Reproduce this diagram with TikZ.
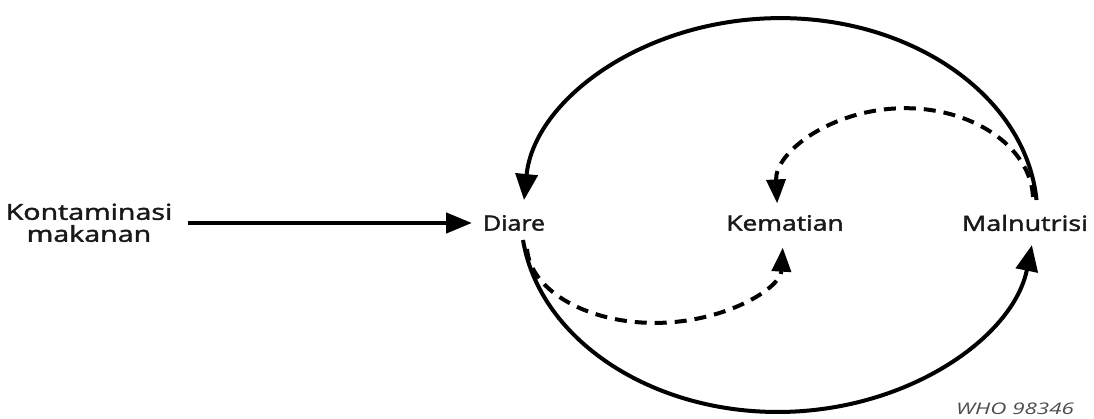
\documentclass[tikz,border=0pt]{standalone}
\usepackage{fontspec}
\setmainfont{Open Sans}[FakeBold=1.7]
\newfontfamily\whofont{Open Sans}
\usetikzlibrary{arrows.meta}
\begin{document}
\begin{tikzpicture}[x=1pt,y=1pt,
  lbl/.style={font=\fontsize{21}{24}\selectfont, inner sep=0pt, text=black!90},
  solidarc/.style={line width=4pt, -{Triangle[length=26pt,width=22pt]}},
  dasharc/.style={line width=4pt, dash pattern=on 12pt off 8pt, -{Triangle[length=24pt,width=19pt]}}]
\useasboundingbox (0,0) rectangle (1094,419);
\node[lbl, font=\fontsize{22}{24}\selectfont] (k) at (89,193) {\scalebox{1.3}[1]{\begin{tabular}{@{}c@{}}Kontaminasi\\[-2pt]makanan\end{tabular}}};
\node[lbl] (d) at (514,196) {\scalebox{1.19}[1]{Diare}};
\node[lbl] (m) at (785,196) {\scalebox{1.26}[1]{Kematian}};
\node[lbl] (n) at (1025,196) {\scalebox{1.28}[1]{Malnutrisi}};
\node[font=\fontsize{16}{16}\selectfont\whofont\itshape, inner sep=0pt, text=black!70] (w) at (1015,10) {\scalebox{1.4}[1]{WHO 98346}};
% straight arrow
\coordinate (ka) at (188,196);
\coordinate (da) at (472,196);
\draw[line width=4.5pt, -{Triangle[length=26pt,width=20pt]}] (ka) -- (da);
% big ellipse: centre (780,204), rx 257, ry 197
\coordinate (nt) at (1036.5,219);
\coordinate (db) at (523,179);
\draw[solidarc] (nt) arc[start angle=4.4, end angle=175.6, x radius=257, y radius=197];
\draw[solidarc] (db) arc[start angle=187.3, end angle=351.2, x radius=257, y radius=197];
% dashed upper: centre (905,219), rx 128, ry 92
\coordinate (nd) at (1033,222);
\draw[dasharc] (nd) arc[start angle=2, end angle=182, x radius=128, y radius=92];
% dashed lower: centre (655,174), rx 128, ry 78
\coordinate (dd) at (527,170);
\draw[dasharc] (dd) arc[start angle=183, end angle=358, x radius=128, y radius=78];
\end{tikzpicture}
\end{document}
